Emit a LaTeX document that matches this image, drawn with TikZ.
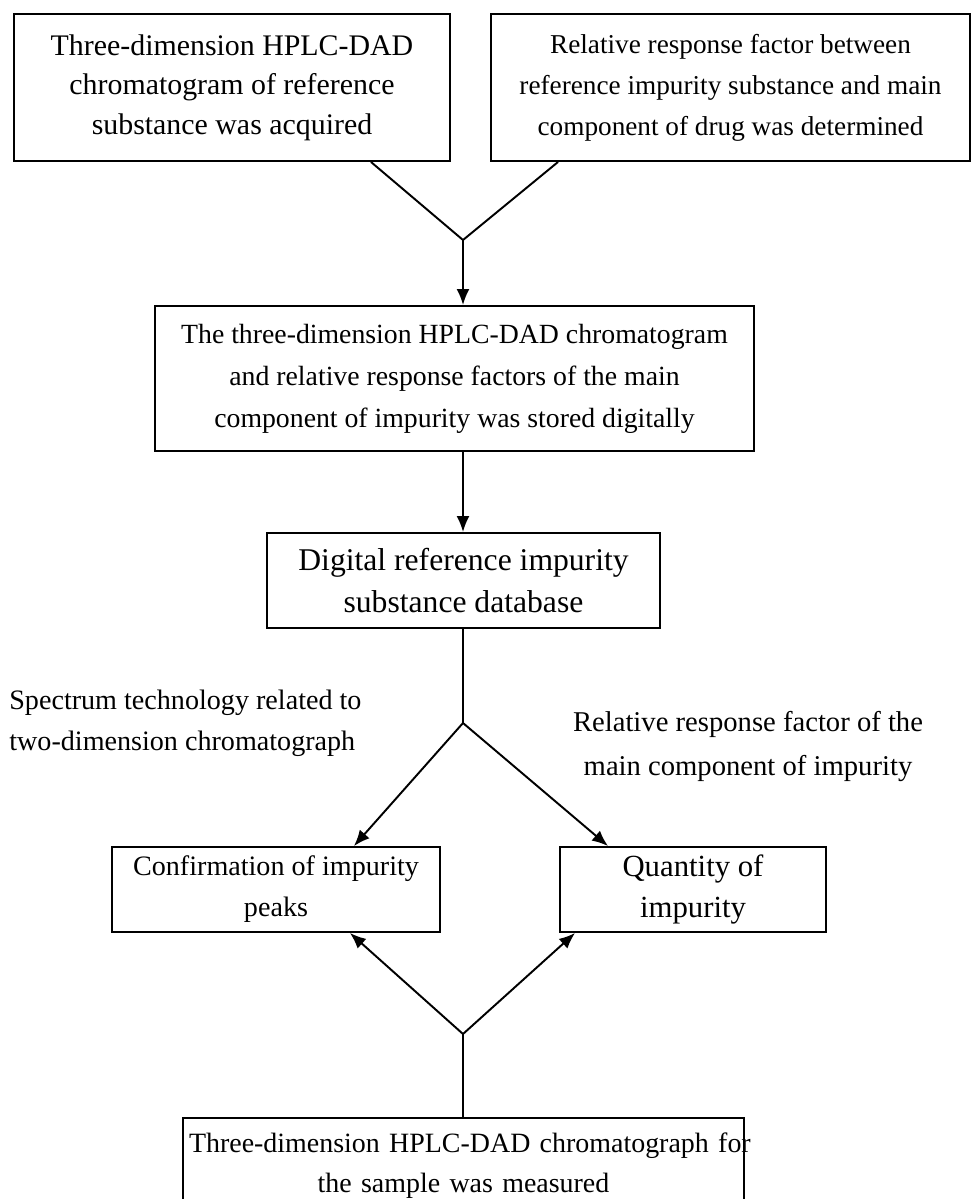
\documentclass[tikz,border=0pt]{standalone}
\usepackage{fontspec}
\setmainfont{Liberation Serif}
\usetikzlibrary{arrows.meta}

\begin{document}
\begin{tikzpicture}[
    every node/.style={align=center},
    box/.style={draw, line width=1.1pt, inner sep=2pt},
    link/.style={line width=1.1pt},
    arrow/.style={line width=1.1pt, -{Latex[length=3.2mm, width=2.6mm]}},
    note/.style={inner sep=0pt, font=\fontsize{16}{23.4}\selectfont}
]

\useasboundingbox (0,0) rectangle (19.44,-23.98);

% Top row
\node[box, minimum width=8.72cm, minimum height=2.94cm, font=\fontsize{17}{22.4}\selectfont] (refchrom) at (4.64,-1.75)
    {Three-dimension HPLC-DAD\\chromatogram of reference\\substance was acquired};
\node[box, minimum width=9.58cm, minimum height=2.94cm, font=\fontsize{15.5}{23.3}\selectfont] (rrf) at (14.61,-1.75)
    {Relative response factor between\\reference impurity substance and main\\component of drug was determined};
\coordinate (join1) at (9.26,-4.8);

% Middle column
\node[box, minimum width=11.98cm, minimum height=2.9cm, font=\fontsize{15.8}{23.9}\selectfont] (stored) at (9.09,-7.57)
    {The three-dimension HPLC-DAD chromatogram\\and relative response factors of the main\\component of impurity was stored digitally};
\node[box, minimum width=7.86cm, minimum height=1.9cm, font=\fontsize{18}{23.9}\selectfont] (database) at (9.27,-11.61)
    {Digital reference impurity\\substance database};
\coordinate (join2) at (9.26,-14.46);

% Side labels
\node[note, anchor=west, align=left] (spectrumlbl) at (0.18,-14.46)
    {Spectrum technology related to\\two-dimension chromatograph};
\node[note, font=\fontsize{16.3}{24.5}\selectfont] (factorlbl) at (14.96,-14.93)
    {Relative response factor of the\\main component of impurity};

% Result boxes
\node[box, minimum width=6.56cm, minimum height=1.7cm, font=\fontsize{16}{23.3}\selectfont] (confirm) at (5.52,-17.79)
    {Confirmation of impurity\\peaks};
\node[box, minimum width=5.32cm, minimum height=1.7cm, font=\fontsize{17.5}{23.3}\selectfont] (quantity) at (13.86,-17.79)
    {Quantity of\\impurity};
\coordinate (join3) at (9.26,-20.68);

% Sample box, cut off at the bottom
\node[box, anchor=north, text width=10.98cm, inner xsep=0.12cm, minimum height=1.92cm, font=\fontsize{15.9}{22.8}\selectfont] (sample) at (9.27,-22.34)
    {\mbox{Three-dimension HPLC-DAD chromatograph for}\\the sample was measured};

% Connectors
\draw[link] ([xshift=-1.6cm]refchrom.south east) -- (join1);
\draw[link] ([xshift=1.36cm]rrf.south west) -- (join1);
\draw[arrow] (join1) -- (join1 |- stored.north);
\draw[arrow] (stored.south -| join1) -- (database.north -| join1);
\draw[link] (database.south -| join2) -- (join2);
\draw[arrow] (join2) -- ([xshift=-1.74cm]confirm.north east);
\draw[arrow] (join2) -- ([xshift=0.98cm]quantity.north west);
\draw[link] (sample.north -| join3) -- (join3);
\draw[arrow] (join3) -- ([xshift=-1.82cm]confirm.south east);
\draw[arrow] (join3) -- ([xshift=0.32cm]quantity.south west);
\end{tikzpicture}
\end{document}
